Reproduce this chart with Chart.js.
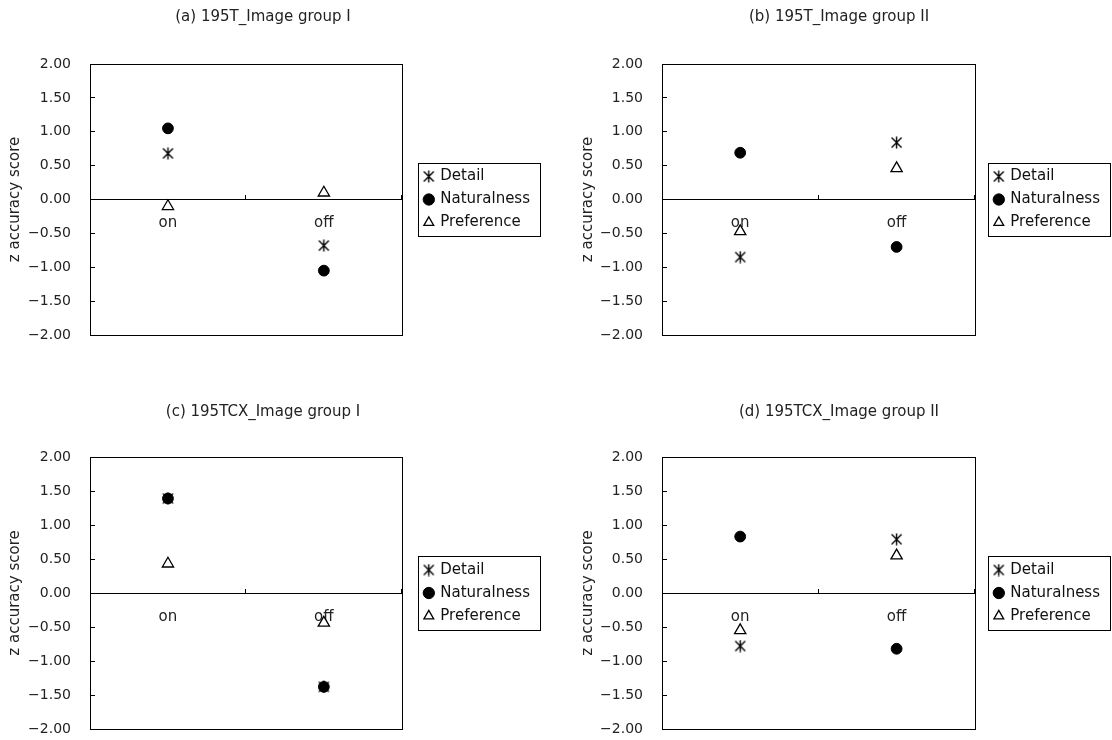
<!DOCTYPE html>
<html>
<head>
<meta charset="utf-8">
<script src="https://cdn.jsdelivr.net/npm/chart.js@4/dist/chart.umd.min.js"></script>
<style>
html, body { margin:0; padding:0; background:#fff; width:1112px; height:740px; overflow:hidden; position:relative; }
canvas { position:absolute; }
</style>
</head>
<body>
<canvas id="ca" width="556" height="370" style="left:-14px;top:0px"></canvas>
<canvas id="cb" width="544" height="370" style="left:568px;top:0px"></canvas>
<canvas id="cc" width="556" height="370" style="left:-14px;top:394px"></canvas>
<canvas id="cd" width="544" height="370" style="left:568px;top:394px"></canvas>
<script>
// ---- data ----
const categories = ['on', 'off'];
const seriesNames = ['Detail', 'Naturalness', 'Preference'];
const yAxisTitle = 'z accuracy score';
const yMin = -2, yMax = 2, yStep = 0.5;

const titleA = '(a) 195T_Image group I';
const detailA = [0.68, -0.68];
const naturalA = [1.05, -1.05];
const preferA = [-0.10, 0.10];

const titleB = '(b) 195T_Image group II';
const detailB = [-0.85, 0.84];
const naturalB = [0.69, -0.70];
const preferB = [-0.47, 0.46];

const titleC = '(c) 195TCX_Image group I';
const detailC = [1.39, -1.38];
const naturalC = [1.39, -1.38];
const preferC = [0.43, -0.44];

const titleD = '(d) 195TCX_Image group II';
const detailD = [-0.78, 0.79];
const naturalD = [0.83, -0.82];
const preferD = [-0.55, 0.55];

// ---- styling ----
const FONT = 'DejaVu Sans';
Chart.defaults.font.family = FONT;

function makeStar() {
  const c = document.createElement('canvas');
  c.width = 13; c.height = 13;
  const g = c.getContext('2d');
  g.strokeStyle = '#000';
  g.lineWidth = 1.4;
  g.beginPath();
  g.moveTo(6.5, 0.5); g.lineTo(6.5, 12.5);
  g.moveTo(1.5, 1.5); g.lineTo(11.5, 11.5);
  g.moveTo(11.5, 1.5); g.lineTo(1.5, 11.5);
  g.stroke();
  return c;
}
const starImg = makeStar();

const fmt = v => (v < 0 ? '\u2212' : '') + Math.abs(v).toFixed(2);

const framePlugin = {
  id: 'frame',
  beforeDatasetsDraw(chart) {
    const {ctx, chartArea: a} = chart;
    ctx.save();
    ctx.strokeStyle = '#000';
    ctx.lineWidth = 1;
    const l = Math.round(a.left), t = Math.round(a.top), r = Math.round(a.right), b = Math.round(a.bottom);
    ctx.strokeRect(l + 0.5, t + 0.5, r - l, b - t);
    ctx.restore();
  }
};

const legendBoxPlugin = {
  id: 'legendBox',
  afterDraw(chart) {
    const hb = chart.legend && chart.legend.legendHitBoxes;
    if (!hb || !hb.length) return;
    let l = Infinity, r = -Infinity, t = Infinity, b = -Infinity;
    hb.forEach(h => {
      l = Math.min(l, h.left); r = Math.max(r, h.left + h.width);
      t = Math.min(t, h.top); b = Math.max(b, h.top + h.height);
    });
    const ctx = chart.ctx;
    ctx.save();
    ctx.strokeStyle = '#000';
    ctx.lineWidth = 1;
    const x0 = Math.round(l - 7), y0 = Math.round(t - 6.5), x1 = Math.round(r + 10), y1 = Math.round(b + 6);
    ctx.strokeRect(x0 + 0.5, y0 + 0.5, x1 - x0, y1 - y0);
    ctx.restore();
  }
};

function makeChart(id, title, det, nat, pref, L) {
  return new Chart(document.getElementById(id), {
    type: 'line',
    data: {
      labels: categories,
      datasets: [
        { label: seriesNames[0], data: det, showLine: false, pointStyle: starImg, pointRadius: 6,
          pointBorderColor: '#000', pointBackgroundColor: '#000', borderColor: '#000', backgroundColor: '#000' },
        { label: seriesNames[1], data: nat, showLine: false, pointStyle: 'circle', pointRadius: 5.4, pointBorderWidth: 1,
          pointBorderColor: '#000', pointBackgroundColor: '#000', borderColor: '#000', backgroundColor: '#000' },
        { label: seriesNames[2], data: pref, showLine: false, pointStyle: 'triangle', pointRadius: 6.5, pointBorderWidth: 1.3,
          pointBorderColor: '#000', pointBackgroundColor: '#fff', borderColor: '#000', backgroundColor: '#fff', borderWidth: 1.3 }
      ]
    },
    options: {
      responsive: false,
      animation: false,
      events: [],
      layout: { padding: { left: 0, right: L.padR, top: 0, bottom: 35 } },
      plugins: {
        title: { display: true, text: title, color: '#222',
                 font: { family: FONT, size: 15, weight: 'normal' },
                 padding: { top: L.tTop, bottom: L.tBot } },
        legend: { display: true, position: 'right', fullSize: false, maxWidth: 300,
                  labels: { usePointStyle: true, boxWidth: 8, boxHeight: 8, padding: 8, color: '#111',
                            font: { family: FONT, size: 15 } } },
        tooltip: { enabled: false }
      },
      scales: {
        x: {
          type: 'category', position: { y: 0 }, offset: true,
          grid: { display: true, offset: true, drawOnChartArea: false, tickLength: -5, color: '#000' },
          border: { display: true, color: '#000', width: 1 },
          ticks: { padding: 20, maxRotation: 0, color: '#222', font: { family: FONT, size: 15 } }
        },
        y: {
          type: 'linear', position: 'left', min: yMin, max: yMax,
          ticks: { stepSize: yStep, padding: 24, color: '#222', font: { family: FONT, size: 14 }, callback: v => fmt(v) },
          grid: { display: true, drawOnChartArea: false, tickLength: -5, color: '#000' },
          border: { display: true, color: '#000' },
          title: { display: true, text: yAxisTitle, color: '#222', font: { family: FONT, size: 15 },
                   padding: { top: L.axT, bottom: 0 } },
          afterFit(s) { s.width = L.yW; }
        },
        y2: {
          type: 'linear', position: 'right', min: yMin, max: yMax, display: true,
          grid: { display: false }, ticks: { display: false }, border: { display: false },
          afterFit(s) { s.width = L.y2W; }
        }
      }
    },
    plugins: [framePlugin, legendBoxPlugin]
  });
}

const leftLayoutTop = { padR: 2, tTop: 8, tBot: 38, axT: 20, yW: 104, y2W: 15 };
const rightLayoutTop = { padR: 2, tTop: 8, tBot: 38, axT: 11, yW: 94, y2W: 12 };
const leftLayoutBot = { padR: 2, tTop: 9, tBot: 36, axT: 20, yW: 104, y2W: 15 };
const rightLayoutBot = { padR: 2, tTop: 9, tBot: 36, axT: 11, yW: 94, y2W: 12 };

makeChart('ca', titleA, detailA, naturalA, preferA, leftLayoutTop);
makeChart('cb', titleB, detailB, naturalB, preferB, rightLayoutTop);
makeChart('cc', titleC, detailC, naturalC, preferC, leftLayoutBot);
makeChart('cd', titleD, detailD, naturalD, preferD, rightLayoutBot);
</script>
</body>
</html>
